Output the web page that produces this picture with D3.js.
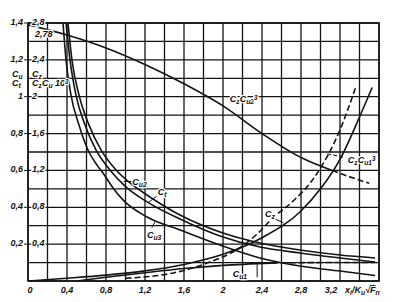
<!DOCTYPE html>
<html><head><meta charset="utf-8">
<script src="https://cdn.jsdelivr.net/npm/d3@7"></script>
<style>
body{margin:0;background:#fff}
text{font-family:"Liberation Sans Narrow","Liberation Sans",Arial,sans-serif;font-style:italic;font-weight:bold;fill:#111}
</style></head><body><svg id="c" width="393" height="302"></svg>
<script>
// ---- data (left-scale values; right scale = 2 x left) ----
const xTicks=[0,0.4,0.8,1.2,1.6,2,2.4,2.8,3.2];
const xTickLabels=["0","0,4","0,8","1,2","1,6","2","2,4","2,8","3,2"];
const yTicks=[0.2,0.4,0.6,0.8,1.0,1.2,1.4];
const yLeftLabels=["0,2","0,4","0,6","0,8","1","1,2","1,4"];
const yRightLabels=["0,4","0,8","1,2","1,6","2","2,4","2,8"];

const czcu2X=[0,0.4,0.8,1.2,1.6,2.0,2.4,2.8,3.12];
const czcu2Y=[1.39,1.335,1.265,1.175,1.07,0.95,0.80,0.67,0.60];
const czcu2DashX=[3.12,3.3,3.5];
const czcu2DashY=[0.60,0.565,0.53];

const cu2X=[0.41,0.451,0.523,0.626,0.749,0.903,1.046,1.251,1.559,1.969,2.379,2.79,3.2,3.56];
const cu2Y=[1.40,1.199,1.009,0.846,0.711,0.602,0.532,0.456,0.358,0.266,0.206,0.168,0.141,0.125];

const ctX=[0.39,0.431,0.492,0.585,0.697,0.841,0.995,1.221,1.559,1.969,2.379,2.79,3.2,3.56];
const ctY=[1.40,1.199,1.009,0.846,0.711,0.602,0.515,0.429,0.336,0.244,0.184,0.152,0.125,0.103];

const cu3X=[0.359,0.39,0.441,0.523,0.615,0.708,0.769,0.872,0.974,1.221,1.559,1.969,2.379,2.79,3.2,3.56];
const cu3Y=[1.40,1.199,1.009,0.846,0.711,0.629,0.586,0.505,0.44,0.347,0.277,0.195,0.125,0.081,0.054,0.03];

const czX=[0,0.4,0.8,1.2,1.6,2.0,2.4,2.8,3.0,3.2,3.4,3.53];
const czY=[0,0.015,0.032,0.055,0.09,0.145,0.235,0.38,0.5,0.66,0.89,1.05];

const czcu1X=[1.0,1.5,1.9,2.17,2.35,2.51,2.72,2.91,3.0,3.2,3.36];
const czcu1Y=[0.015,0.045,0.11,0.179,0.255,0.342,0.434,0.543,0.613,0.82,1.05];

const cu1X=[0.5,0.8,1.2,1.6,2.0,2.5];
const cu1Y=[0,0.02,0.045,0.068,0.085,0.097];
const cu1DashX=[2.5,3.0,3.56];
const cu1DashY=[0.097,0.1,0.1];

// ---- scales ----
const svg=d3.select("#c");
const x=d3.scaleLinear().domain([0,3.6]).range([28,379]);
const y=d3.scaleLinear().domain([0,1.4]).range([281,23]);
const ink="#141414";

svg.append("clipPath").attr("id","clip").append("rect")
  .attr("x",x(0)).attr("y",y(1.4)).attr("width",x(3.6)-x(0)).attr("height",y(0)-y(1.4));

// grid
const g=svg.append("g").attr("stroke",ink).attr("stroke-width",1.3);
g.selectAll(".v").data(d3.range(0,3.61,0.2)).join("line")
 .attr("x1",d=>x(d)).attr("x2",d=>x(d)).attr("y1",y(0)).attr("y2",y(1.4));
g.selectAll(".h").data(d3.range(0,1.41,0.1)).join("line")
 .attr("x1",x(0)).attr("x2",x(3.6)).attr("y1",d=>y(d)).attr("y2",d=>y(d));
svg.append("rect").attr("x",x(0)).attr("y",y(1.4)).attr("width",x(3.6)-x(0)).attr("height",y(0)-y(1.4))
 .attr("fill","none").attr("stroke",ink).attr("stroke-width",1.6);

// curves
const line=d3.line().x(d=>x(d[0])).y(d=>y(d[1])).curve(d3.curveMonotoneX);
const cg=svg.append("g").attr("clip-path","url(#clip)");
function draw(xs,ys,dash){
  cg.append("path").attr("d",line(xs.map((v,i)=>[v,ys[i]])))
   .attr("fill","none").attr("stroke",ink).attr("stroke-width",1.6)
   .attr("stroke-dasharray",dash?"6,3":null);
}
draw(czcu2X,czcu2Y,false);
draw(czcu2DashX,czcu2DashY,true);
draw(cu2X,cu2Y,false);
draw(ctX,ctY,false);
draw(cu3X,cu3Y,false);
draw(czX,czY,false);
draw(czcu1X,czcu1Y,true);
draw(cu1X,cu1Y,false);
draw(cu1DashX,cu1DashY,true);

// ---- text helpers ----
function lbl(px,py,parts,size,anchor,halo){
  const t=svg.append("text").attr("x",px).attr("y",py).attr("font-size",size||9)
    .attr("text-anchor",anchor||"start");
  if(halo) t.attr("stroke","#fff").attr("stroke-width",2.5).attr("paint-order","stroke");
  parts.forEach(p=>{
    const s=t.append("tspan").text(p[0]);
    if(p[1]==="sub") s.attr("baseline-shift","-25%").attr("font-size",(size||9)*0.75);
    if(p[1]==="sup") s.attr("baseline-shift","40%").attr("font-size",(size||9)*0.7);
    if(p[1]==="ov") s.attr("text-decoration","overline");
  });
  return t;
}

// y labels
yTicks.forEach((v,i)=>{
  lbl(23,y(v)+2,[[yLeftLabels[i]]],9,"end");
  svg.append("line").attr("x1",24).attr("x2",27).attr("y1",y(v)).attr("y2",y(v)).attr("stroke",ink).attr("stroke-width",1);
  lbl(32,y(v)+2,[[yRightLabels[i]]],9,"start",true);
});
lbl(35,y(1.39)+12,[["2,78"]],9,"start",true);
lbl(12,77,[["C"],["u","sub"]],9,"start");
lbl(12,86,[["C"],["t","sub"]],9,"start");
lbl(32,77,[["C"],["z","sub"]],9,"start",true);
lbl(32,86,[["C"],["z","sub"],["C"],["u","sub"],[" 10"],["3","sup"]],9,"start",true);

// x labels
xTicks.forEach((v,i)=>{
  lbl(x(v)+(v===0?2:(v===3.2?-9:0)),293,[[xTickLabels[i]]],9,"middle");
});
lbl(345,293,[["x"],["i","sub"],["/K"],["u","sub"],["√"],["F","ov"],["n","sub"]],9,"start");

// curve labels
lbl(x(2.07),y(0.97),[["C"],["z","sub"],["C"],["u2","sub"],["3","sup"]],9,"start",true);
lbl(x(1.07),y(0.52),[["C"],["u2","sub"]],9,"start",true);
lbl(x(1.33),y(0.465),[["C"],["t","sub"]],9,"start",true);
lbl(x(1.22),y(0.235),[["C"],["u3","sub"]],9,"start",true);
lbl(x(2.43),y(0.35),[["C"],["z","sub"]],9,"start",true);
lbl(x(3.28),y(0.64),[["C"],["z","sub"],["C"],["u1","sub"],["3","sup"]],9,"start",true);
lbl(x(2.1),y(0.022),[["C"],["u1","sub"]],9,"start",true);

// leaders
const L=svg.append("g").attr("stroke",ink).attr("stroke-width",1);
L.append("line").attr("x1",x(0.98)).attr("y1",y(0.54)).attr("x2",x(1.06)).attr("y2",y(0.54));
L.append("line").attr("x1",x(1.23)).attr("y1",y(0.425)).attr("x2",x(1.32)).attr("y2",y(0.46));
L.append("line").attr("x1",x(1.3)).attr("y1",y(0.32)).attr("x2",x(1.27)).attr("y2",y(0.29));
L.append("line").attr("x1",x(2.54)).attr("y1",y(0.335)).attr("x2",x(2.62)).attr("y2",y(0.315));
L.append("line").attr("x1",x(3.07)).attr("y1",y(0.69)).attr("x2",x(3.25)).attr("y2",y(0.67)).attr("stroke-dasharray","4,2");
L.append("line").attr("x1",x(2.35)).attr("y1",y(0.1)).attr("x2",x(2.35)).attr("y2",y(0.02));
</script></body></html>
